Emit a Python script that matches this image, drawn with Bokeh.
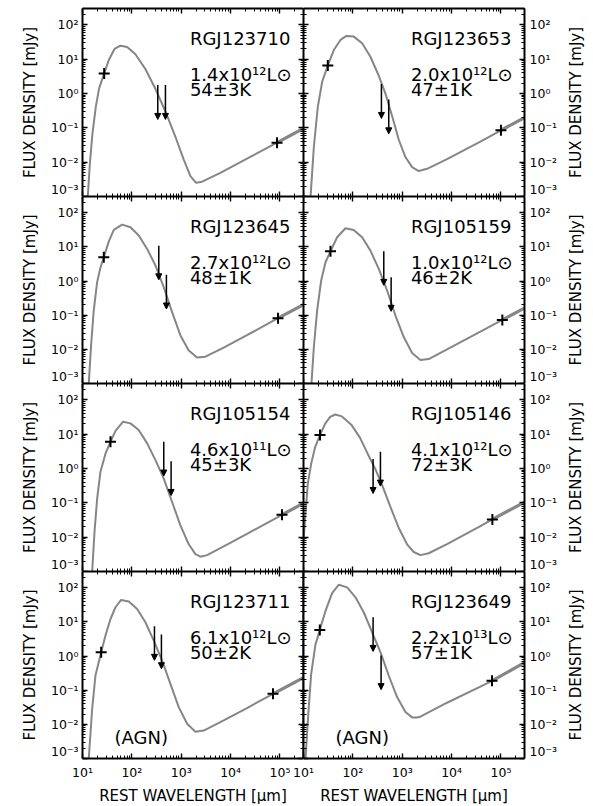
import math
from bokeh.plotting import figure
from bokeh.models import ColumnDataSource, FixedTicker, LogAxis, Arrow, NormalHead
from bokeh.layouts import column, row
from bokeh.embed import file_html
from bokeh.resources import INLINE
from bokeh.core.properties import value

FONT = "DejaVu Sans"
X_RANGE = (10.0, 3.0e5)
Y_RANGE = (1.0e-3, 300.0)

# ---------------- data ----------------
names = ["RGJ123710", "RGJ123653", "RGJ123645", "RGJ105159",
         "RGJ105154", "RGJ105146", "RGJ123711", "RGJ123649"]
luminosities = ["1.4x10¹²L⊙", "2.0x10¹²L⊙", "2.7x10¹²L⊙", "1.0x10¹²L⊙",
                "4.6x10¹¹L⊙", "4.1x10¹²L⊙", "6.1x10¹²L⊙", "2.2x10¹³L⊙"]
temperatures = ["54±3K", "47±1K", "48±1K", "46±2K",
                "45±3K", "72±3K", "50±2K", "57±1K"]
agn_flag = [False, False, False, False, False, False, True, True]

# fitted SED curves (rest wavelength in micron, flux density in mJy)
wave_p1 = [12.8, 14.1, 15.9, 18.6, 21.7, 27.5, 34.1, 44.5, 58.8, 80.2, 118, 188, 301, 479, 763, 1125, 1535, 2000, 2645, 6220, 21500, 87300, 300000]
flux_p1 = [0.001, 0.009, 0.068, 0.41, 1.41, 3.86, 9.5, 19.9, 24.8, 22.7, 13.9, 5.2, 1.35, 0.30, 0.055, 0.0118, 0.0039, 0.0025, 0.0027, 0.0049, 0.0126, 0.037, 0.096]

wave_p2 = [13.9, 16.2, 19.5, 23.9, 31.1, 41.1, 56.1, 74, 104.5, 154, 227, 335, 457, 624, 851, 1161, 1585, 2163, 3186, 8090, 38300, 100000, 300000]
flux_p2 = [0.001, 0.0277, 0.41, 2.2, 6.6, 18.5, 36.4, 47.8, 45.5, 29.0, 11.8, 3.3, 1.0, 0.22, 0.045, 0.0141, 0.0072, 0.0055, 0.0064, 0.0122, 0.040, 0.085, 0.198]

wave_p3 = [13.4, 15.0, 16.9, 19.8, 23.1, 27.0, 34.1, 43.1, 63.5, 93.7, 138, 204, 301, 443, 653, 963, 1420, 2094, 3090, 7260, 21500, 91400, 300000]
flux_p3 = [0.001, 0.0146, 0.138, 0.93, 2.5, 5.0, 14.5, 31.4, 45.0, 37.6, 21.5, 8.75, 2.85, 0.66, 0.123, 0.0256, 0.0093, 0.0058, 0.0061, 0.0113, 0.026, 0.082, 0.205]

wave_p4 = [14.5, 16.2, 18.9, 22.8, 27.9, 35.2, 48.0, 70.8, 104, 154, 227, 335, 494, 728, 1074, 1585, 2335, 3440, 8090, 38300, 106700, 300000]
flux_p4 = [0.001, 0.0117, 0.138, 1.04, 3.56, 7.5, 19.2, 35.2, 31.4, 19.2, 7.8, 2.27, 0.53, 0.098, 0.0229, 0.0078, 0.0049, 0.0052, 0.0100, 0.033, 0.073, 0.162]

wave_p5 = [15.7, 17.5, 19.8, 23.1, 29.2, 36.9, 46.6, 66.5, 93.7, 138, 204, 301, 443, 653, 963, 1420, 1940, 2450, 3340, 7260, 21500, 110000, 300000]
flux_p5 = [0.001, 0.0141, 0.133, 0.80, 2.7, 6.04, 12.5, 23.2, 20.7, 13.2, 5.4, 1.76, 0.51, 0.106, 0.0221, 0.0062, 0.0032, 0.0027, 0.0030, 0.0054, 0.0125, 0.045, 0.0975]

wave_p6 = [10.0, 11.1, 12.2, 14.3, 17.2, 21.6, 27.5, 34.7, 44.0, 60.0, 93.0, 140, 197, 287, 392, 577, 851, 1253, 1711, 2335, 3440, 8090, 38300, 67000, 300000]
flux_p6 = [0.008, 0.059, 0.357, 1.37, 4.22, 9.5, 20.3, 31.8, 37.5, 33.0, 19.0, 7.8, 2.8, 0.95, 0.33, 0.076, 0.0185, 0.0062, 0.0037, 0.0030, 0.0034, 0.0063, 0.021, 0.033, 0.105]

wave_p7 = [13.4, 15.7, 18.3, 23.9, 29.2, 36.9, 46.6, 60.7, 86.7, 128, 188, 278, 410, 604, 891, 1315, 1940, 2860, 7260, 21500, 72400, 300000]
flux_p7 = [0.001, 0.0286, 0.27, 1.30, 3.99, 12.2, 26.9, 44.0, 39.4, 24.0, 9.8, 2.85, 0.74, 0.154, 0.032, 0.0104, 0.0061, 0.0066, 0.013, 0.030, 0.0785, 0.234]

wave_p8 = [11.0, 12.5, 14.3, 17.5, 21.4, 27.9, 38.0, 52.0, 76.6, 113, 166, 245, 362, 533, 787, 1161, 1585, 2000, 2335, 3720, 8090, 38300, 65900, 300000]
flux_p8 = [0.001, 0.02, 0.30, 2.2, 5.85, 21.0, 70.0, 123.0, 103.0, 52.7, 19.2, 4.99, 1.30, 0.27, 0.063, 0.0229, 0.0160, 0.0158, 0.0168, 0.024, 0.043, 0.128, 0.188, 0.645]

# detections (mid-IR and radio) and upper limits (submm)
ir_wave = [27.5, 31.1, 27.0, 35.2, 36.9, 21.6, 23.9, 21.4]
ir_flux = [3.86, 6.6, 5.0, 7.5, 6.04, 9.5, 1.30, 5.85]
radio_wave = [87300, 100000, 91400, 106700, 110000, 67000, 72400, 65900]
radio_flux = [0.037, 0.085, 0.082, 0.073, 0.045, 0.033, 0.0785, 0.188]
lim1_wave = [335, 379, 351, 423, 443, 257, 287, 257]
lim1_flux = [1.76, 1.88, 10.9, 7.5, 6.04, 1.88, 7.5, 13.7]
lim2_wave = [479, 533, 501, 596, 624, 362, 397, 373]
lim2_flux = [1.76, 0.67, 1.52, 1.30, 1.64, 3.08, 4.26, 1.04]

# axis ticks and their labels
y_major = [1e-3, 1e-2, 1e-1, 1.0, 10.0, 100.0]
y_labels = ["10⁻³", "10⁻²", "10⁻¹", "10⁰", "10¹", "10²"]
x_major = [10.0, 100.0, 1000.0, 10000.0, 100000.0]
x_labels = ["10¹", "10²", "10³", "10⁴", "10⁵"]
y_title = "FLUX DENSITY [mJy]"
x_title = "REST WAVELENGTH [μm]"

# ---------------- styling / layout constants ----------------
curves = [(wave_p1, flux_p1), (wave_p2, flux_p2), (wave_p3, flux_p3), (wave_p4, flux_p4),
          (wave_p5, flux_p5), (wave_p6, flux_p6), (wave_p7, flux_p7), (wave_p8, flux_p8)]
y_minor = [k * m for m in y_major for k in range(2, 10) if k * m <= Y_RANGE[1]]
x_minor = [k * m for m in x_major for k in range(2, 10) if k * m <= X_RANGE[1]]

PAGE_PAD = 8
FRAME_W = 221
FRAME_H = [188, 187, 188, 187]
RIGHT_BORDER = 40
SIDE_W = 23
CURVE_COLOR = "#868686"
TICK_FONT = "12.5px"
TEXT_FONT = "18px"
AXIS_LABEL_FONT = "15px"
FRAME_LINE = 2.0
TEXT_X = 1500.0          # left edge of the in-panel text block (data units)
NAME_Y, LUM_Y, TEMP_Y = 40.8, 3.57, 1.285   # vertical centres of the three text lines
AGN_X, AGN_Y = 44.5, 0.0041
ARROW_DROP = 10.0
LOW_LABEL_LIFT_PX = 7    # the lowest y label sits a little above the frame corner
low_label_pos = Y_RANGE[0] * (Y_RANGE[1] / Y_RANGE[0]) ** (LOW_LABEL_LIFT_PX / 187.5)
y_label_pos = [low_label_pos] + y_major[1:]


def tick_axis(is_x, labeled=False):
    ax = LogAxis()
    if is_x:
        ax.ticker = FixedTicker(ticks=x_major, minor_ticks=x_minor)
    else:
        ax.ticker = FixedTicker(ticks=y_major, minor_ticks=y_minor)
    ax.axis_line_color = "black"
    ax.axis_line_width = FRAME_LINE
    ax.major_tick_line_color = "black"
    ax.major_tick_line_width = 1.4
    ax.minor_tick_line_color = "black"
    ax.minor_tick_line_width = 1.0
    ax.major_tick_in = 5
    ax.major_tick_out = 0
    ax.minor_tick_in = 3
    ax.minor_tick_out = 0
    if labeled:
        ax.major_label_text_font = FONT
        ax.major_label_text_font_size = TICK_FONT
        ax.major_label_text_color = "black"
        ax.major_label_overrides = {v: t for v, t in zip(x_major, x_labels)}
        ax.major_label_standoff = 6
        ax.axis_label = x_title
        ax.axis_label_standoff = 4
        ax.axis_label_text_font = FONT
        ax.axis_label_text_font_size = AXIS_LABEL_FONT
        ax.axis_label_text_font_style = "normal"
        ax.axis_label_text_color = "black"
    else:
        ax.major_label_text_color = None
        ax.major_label_text_font_size = "0px"
        ax.major_label_standoff = 0
    return ax


def label_axis(side):
    ax = LogAxis(ticker=FixedTicker(ticks=y_label_pos, minor_ticks=[]))
    ax.axis_line_color = None
    ax.major_tick_line_color = None
    ax.minor_tick_line_color = None
    ax.major_tick_in = 0
    ax.major_tick_out = 0
    ax.minor_tick_in = 0
    ax.minor_tick_out = 0
    ax.major_label_overrides = {v: t for v, t in zip(y_label_pos, y_labels)}
    ax.major_label_text_font = FONT
    ax.major_label_text_font_size = TICK_FONT
    ax.major_label_text_color = "black"
    ax.major_label_standoff = 4 if side == "left" else 5
    if side == "left":
        ax.axis_label = y_title
        ax.axis_label_text_font = FONT
        ax.axis_label_text_font_size = AXIS_LABEL_FONT
        ax.axis_label_text_font_style = "normal"
        ax.axis_label_text_color = "black"
        ax.axis_label_standoff = 9
    return ax


def side_title(r):
    # narrow strip holding the right-hand axis title, reading bottom to top
    f = figure(x_range=(0, 1), y_range=(0, 1), frame_width=SIDE_W, frame_height=FRAME_H[r],
               min_border_left=0, min_border_right=0,
               min_border_top=PAGE_PAD if r == 0 else 0, min_border_bottom=0,
               x_axis_location=None, y_axis_location=None,
               output_backend="svg", toolbar_location=None,
               background_fill_color="white", border_fill_color="white",
               outline_line_color=None)
    f.grid.visible = False
    f.align = "start"
    f.text(x=[0.5], y=[0.5], text=[y_title], angle=math.pi / 2,
           text_font=value(FONT), text_font_size=AXIS_LABEL_FONT, text_color="black",
           text_align="center", text_baseline="middle")
    return f


figs = []
for i in range(8):
    col, r = i % 2, i // 2
    is_left = col == 0
    is_bottom = r == 3
    shift = (not is_left) and is_bottom
    p = figure(x_axis_type="log", y_axis_type="log",
               x_range=X_RANGE, y_range=Y_RANGE,
               x_axis_location=None, y_axis_location=None,
               frame_width=FRAME_W, frame_height=FRAME_H[r],
               min_border_left=(PAGE_PAD + 74) if is_left else (12 if shift else 0),
               min_border_right=0 if is_left else RIGHT_BORDER,
               min_border_top=PAGE_PAD if r == 0 else 0, min_border_bottom=0,
               output_backend="svg", toolbar_location=None,
               background_fill_color="white",
               border_fill_color=None if shift else "white",
               outline_line_color=None)
    if shift:
        p.margin = (0, 0, 0, -12)
    p.grid.visible = False
    p.align = "start"

    p.add_layout(tick_axis(False), "left")
    p.add_layout(tick_axis(False), "right")
    p.add_layout(tick_axis(True), "above")
    p.add_layout(tick_axis(True, labeled=is_bottom), "below")
    p.add_layout(label_axis("left" if is_left else "right"), "left" if is_left else "right")

    wave, flux = curves[i]
    p.line(wave, flux, line_color=CURVE_COLOR, line_width=2)
    rw = [w for w in wave if w >= 0.75 * radio_wave[i]]
    rf = flux[len(wave) - len(rw):]
    p.line(rw, rf, line_color=CURVE_COLOR, line_width=3.2)

    p.scatter([ir_wave[i], radio_wave[i]], [ir_flux[i], radio_flux[i]],
              marker="cross", size=11, line_color="black", line_width=2)

    src = ColumnDataSource(dict(xs=[lim1_wave[i], lim2_wave[i]],
                                ys=[lim1_flux[i], lim2_flux[i]],
                                xe=[lim1_wave[i], lim2_wave[i]],
                                ye=[lim1_flux[i] / ARROW_DROP, lim2_flux[i] / ARROW_DROP]))
    p.add_layout(Arrow(end=NormalHead(size=6, fill_color="black", line_color="black", line_width=1),
                       x_start="xs", y_start="ys", x_end="xe", y_end="ye", source=src,
                       line_color="black", line_width=1.5))

    for yv, txt in ((NAME_Y, names[i]), (LUM_Y, luminosities[i]), (TEMP_Y, temperatures[i])):
        p.text(x=[TEXT_X], y=[yv], text=[txt], text_font=value(FONT),
               text_font_size=TEXT_FONT, text_color="black", text_align="left",
               text_baseline="middle")
    if agn_flag[i]:
        p.text(x=[AGN_X], y=[AGN_Y], text=["(AGN)"], text_font=value(FONT),
               text_font_size=TEXT_FONT, text_color="black", text_align="left",
               text_baseline="middle")
    figs.append(p)

layout = column(*[row(figs[2 * k], figs[2 * k + 1], side_title(k), spacing=0) for k in range(4)],
                spacing=0)
open("out.html", "w").write(file_html(layout, INLINE))
